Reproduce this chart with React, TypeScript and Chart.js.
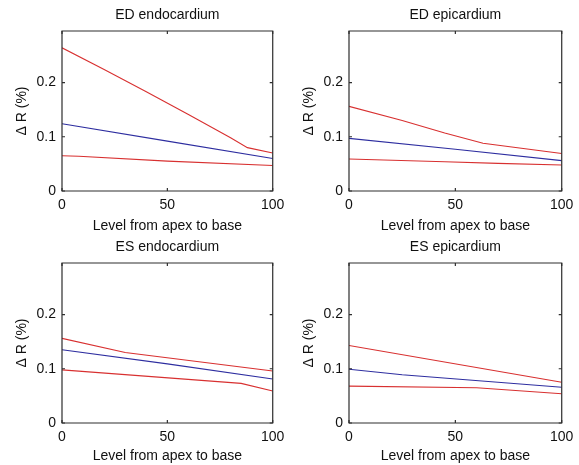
import React, { useEffect, useRef } from "react";
import { Chart, registerables } from "chart.js";

Chart.register(...registerables);

// ---- data ----
const xTicks = [0, 50, 100];
const xTickLabels = ["0", "50", "100"];
const yTicks = [0, 0.1, 0.2];
const yTickLabels = ["0", "0.1", "0.2"];
const X_MIN = 0;
const X_MAX = 100;
const Y_MIN = 0;
const Y_MAX = 0.295;

const panelTitles = ["ED endocardium", "ED epicardium", "ES endocardium", "ES epicardium"];
const xAxisTitle = "Level from apex to base";
const yAxisTitle = "\u0394 R (%)";

// ED endocardium
const edEndoUpperX = [0, 20, 40, 60, 80, 88, 100];
const edEndoUpperY = [0.264, 0.224, 0.183, 0.141, 0.098, 0.080, 0.070];
const edEndoMeanX = [0, 50, 100];
const edEndoMeanY = [0.124, 0.092, 0.060];
const edEndoLowerX = [0, 8, 50, 100];
const edEndoLowerY = [0.065, 0.064, 0.055, 0.047];

// ED epicardium
const edEpiUpperX = [0, 25, 45, 63, 100];
const edEpiUpperY = [0.156, 0.130, 0.107, 0.088, 0.069];
const edEpiMeanX = [0, 50, 100];
const edEpiMeanY = [0.097, 0.077, 0.056];
const edEpiLowerX = [0, 45, 70, 100];
const edEpiLowerY = [0.059, 0.054, 0.051, 0.048];

// ES endocardium
const esEndoUpperX = [0, 30, 100];
const esEndoUpperY = [0.156, 0.130, 0.096];
const esEndoMeanX = [0, 50, 100];
const esEndoMeanY = [0.135, 0.109, 0.081];
const esEndoLowerX = [0, 85, 100];
const esEndoLowerY = [0.098, 0.073, 0.059];

// ES epicardium
const esEpiUpperX = [0, 100];
const esEpiUpperY = [0.143, 0.075];
const esEpiMeanX = [0, 25, 100];
const esEpiMeanY = [0.099, 0.089, 0.066];
const esEpiLowerX = [0, 60, 100];
const esEpiLowerY = [0.068, 0.065, 0.054];

const RED = "#d83030";
const BLUE = "#2e2ea0";
const FONT_FAMILY = "'Liberation Sans', Arial, sans-serif";
const FONT_SIZE = 14;

const zip = (xs: number[], ys: number[]) => xs.map((x, i) => ({ x, y: ys[i] }));

const panelSeries = [
  [
    { xs: edEndoUpperX, ys: edEndoUpperY, color: RED },
    { xs: edEndoMeanX, ys: edEndoMeanY, color: BLUE },
    { xs: edEndoLowerX, ys: edEndoLowerY, color: RED },
  ],
  [
    { xs: edEpiUpperX, ys: edEpiUpperY, color: RED },
    { xs: edEpiMeanX, ys: edEpiMeanY, color: BLUE },
    { xs: edEpiLowerX, ys: edEpiLowerY, color: RED },
  ],
  [
    { xs: esEndoUpperX, ys: esEndoUpperY, color: RED },
    { xs: esEndoMeanX, ys: esEndoMeanY, color: BLUE },
    { xs: esEndoLowerX, ys: esEndoLowerY, color: RED },
  ],
  [
    { xs: esEpiUpperX, ys: esEpiUpperY, color: RED },
    { xs: esEpiMeanX, ys: esEpiMeanY, color: BLUE },
    { xs: esEpiLowerX, ys: esEpiLowerY, color: RED },
  ],
];

// ---- layout ----
type Layout = {
  left: number; top: number; width: number; height: number;
  yAxisWidth: number; padRight: number;
  titlePadTop: number; titlePadBottom: number;
  xAxisHeight: number; xTickPad: number; xTitlePadBottom: number;
  yTitlePadTop: number; yTickPad: number;
};

const TOP_ROW = { top: 0, height: 236, titlePadTop: 6.6, titlePadBottom: 7.6, xAxisHeight: 45, xTickPad: 5.6, xTitlePadBottom: 1.6 };
const BOTTOM_ROW = { top: 236, height: 229, titlePadTop: 2.6, titlePadBottom: 7.6, xAxisHeight: 42, xTickPad: 5.6, xTitlePadBottom: 0 };
const LEFT_COL = { left: 0, width: 290, yAxisWidth: 62, padRight: 11, yTitlePadTop: 14.1, yTickPad: 6 };
const RIGHT_COL = { left: 290, width: 289, yAxisWidth: 59, padRight: 12, yTitlePadTop: 11.1, yTickPad: 6 };

const layouts: Layout[] = [
  { ...TOP_ROW, ...LEFT_COL },
  { ...TOP_ROW, ...RIGHT_COL },
  { ...BOTTOM_ROW, ...LEFT_COL },
  { ...BOTTOM_ROW, ...RIGHT_COL },
];

const boxPlugin = {
  id: "matlabBox",
  afterDatasetsDraw(chart: any) {
    const { ctx, chartArea, scales } = chart;
    const { left, right, top, bottom } = chartArea;
    const tl = 3;
    ctx.save();
    ctx.strokeStyle = "#2e2e2e";
    ctx.lineWidth = 1.2;
    ctx.beginPath();
    ctx.rect(left, top, right - left, bottom - top);
    ctx.stroke();
    ctx.beginPath();
    for (const t of scales.x.ticks) {
      const px = scales.x.getPixelForValue(t.value);
      ctx.moveTo(px, bottom);
      ctx.lineTo(px, bottom - tl);
      ctx.moveTo(px, top);
      ctx.lineTo(px, top + tl);
    }
    for (const t of scales.y.ticks) {
      const py = scales.y.getPixelForValue(t.value);
      ctx.moveTo(left, py);
      ctx.lineTo(left + tl, py);
      ctx.moveTo(right, py);
      ctx.lineTo(right - tl, py);
    }
    ctx.stroke();
    ctx.restore();
  },
};

function Panel({ index }: { index: number }) {
  const ref = useRef<HTMLCanvasElement | null>(null);
  const L = layouts[index];
  useEffect(() => {
    if (!ref.current) return;
    const font = { family: FONT_FAMILY, size: FONT_SIZE, lineHeight: 1.2, weight: "normal" };
    const chart = new Chart(ref.current, {
      type: "line",
      data: {
        datasets: panelSeries[index].map((s) => ({
          data: zip(s.xs, s.ys),
          borderColor: s.color,
          backgroundColor: s.color,
          borderWidth: 1.1,
          pointRadius: 0,
          tension: 0,
          fill: false,
        })),
      },
      options: {
        responsive: false,
        animation: false,
        devicePixelRatio: 1,
        layout: { padding: { left: 0, top: 0, right: L.padRight, bottom: 0 } },
        plugins: {
          legend: { display: false },
          tooltip: { enabled: false },
          title: {
            display: true,
            text: panelTitles[index],
            fullSize: false,
            color: "#111",
            font,
            padding: { top: L.titlePadTop, bottom: L.titlePadBottom },
          },
        },
        scales: {
          x: {
            type: "linear",
            min: X_MIN,
            max: X_MAX,
            grid: { display: false, drawTicks: false },
            border: { display: false },
            afterBuildTicks: (s: any) => {
              s.ticks = xTicks.map((v) => ({ value: v }));
            },
            afterFit: (s: any) => {
              s.height = L.xAxisHeight;
            },
            ticks: {
              autoSkip: false,
              maxRotation: 0,
              padding: L.xTickPad,
              color: "#111",
              font,
              callback: (v: any) => xTickLabels[xTicks.indexOf(Number(v))] ?? "",
            },
            title: {
              display: true,
              text: xAxisTitle,
              color: "#111",
              font,
              padding: { top: 0, bottom: L.xTitlePadBottom },
            },
          },
          y: {
            type: "linear",
            min: Y_MIN,
            max: Y_MAX,
            grid: { display: false, drawTicks: false },
            border: { display: false },
            afterBuildTicks: (s: any) => {
              s.ticks = yTicks.map((v) => ({ value: v }));
            },
            afterFit: (s: any) => {
              s.width = L.yAxisWidth;
            },
            ticks: {
              autoSkip: false,
              padding: L.yTickPad,
              color: "#111",
              font,
              callback: (v: any) => {
                const i = yTicks.findIndex((t) => Math.abs(t - Number(v)) < 1e-9);
                return i >= 0 ? yTickLabels[i] : "";
              },
            },
            title: {
              display: true,
              text: yAxisTitle,
              color: "#111",
              font,
              padding: { top: L.yTitlePadTop, bottom: 0 },
            },
          },
        },
      },
      plugins: [boxPlugin],
    } as any);
    return () => chart.destroy();
  }, [index]);
  return (
    <canvas
      ref={ref}
      width={L.width}
      height={L.height}
      style={{ position: "absolute", left: L.left, top: L.top, width: L.width, height: L.height }}
    />
  );
}

export default function App() {
  return (
    <div style={{ position: "fixed", left: 0, top: 0, width: 579, height: 465, background: "#ffffff", overflow: "hidden" }}>
      {[0, 1, 2, 3].map((i) => (
        <Panel key={i} index={i} />
      ))}
    </div>
  );
}
